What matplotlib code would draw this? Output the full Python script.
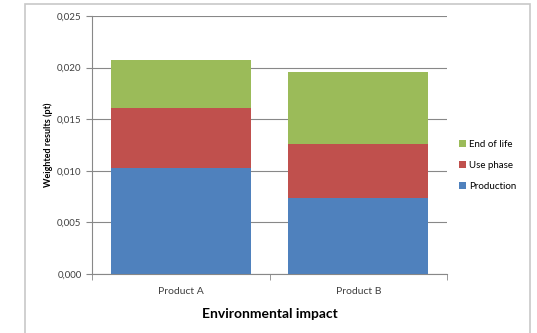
import numpy as np
import matplotlib.pyplot as plt
from matplotlib.patches import Rectangle
from matplotlib.ticker import FuncFormatter

# data
products = ['Product A', 'Product B']
production = [0.0103, 0.0074]
use_phase = [0.0058, 0.0052]
end_of_life = [0.0046, 0.0070]

plt.rcParams['font.family'] = ['Lato', 'DejaVu Sans']

fig = plt.figure(figsize=(5.37, 3.33), dpi=100)
# outer chart frame
fig.patches.append(Rectangle((25 / 537, -0.05), (530 - 25) / 537, 1.05 - 4 / 333,
                             transform=fig.transFigure, fill=False,
                             edgecolor='#c8c8c8', linewidth=1.2))

ax = fig.add_axes([92 / 537, 59 / 333, 355 / 537, 258 / 333])

x = np.arange(len(products))
w = 0.79
prod = np.array(production)
use = np.array(use_phase)
end = np.array(end_of_life)
ax.bar(x, prod, w, color='#4F81BD', label='Production', zorder=3)
ax.bar(x, use, w, bottom=prod, color='#C0504D', label='Use phase', zorder=3)
ax.bar(x, end, w, bottom=prod + use, color='#9BBB59', label='End of life', zorder=3)

ax.set_xlim(-0.5, 1.5)
ax.set_ylim(0, 0.025)
ax.set_yticks(np.arange(0, 0.0251, 0.005))
ax.yaxis.set_major_formatter(FuncFormatter(lambda v, p: f'{v:.3f}'.replace('.', ',')))
ax.set_xticks(x)
ax.set_xticklabels(products)
ax.set_xticks([-0.5, 0.5, 1.5], minor=True)
ax.tick_params(axis='x', which='major', length=0, labelsize=7.5, pad=9, colors='#404040')
ax.tick_params(axis='x', which='minor', length=4, color='#888888')
ax.tick_params(axis='y', length=4, color='#888888', labelsize=7, colors='#404040')

ax.grid(axis='y', color='#888888', linewidth=0.8, zorder=0)
for s in ['top', 'right']:
    ax.spines[s].set_visible(False)
ax.spines['left'].set_color('#888888')
ax.spines['bottom'].set_color('#888888')

ax.set_ylabel('Weighted results (pt)', fontsize=6.5, fontweight='bold', labelpad=3)
ax.set_xlabel('Environmental impact', fontsize=10, fontweight='bold', labelpad=9)

h, l = ax.get_legend_handles_labels()
ax.legend(h[::-1], l[::-1], loc='center left', bbox_to_anchor=(1.01, 0.42),
          frameon=False, fontsize=7, handlelength=0.7, handleheight=0.7,
          handletextpad=0.3, labelspacing=1.25)

plt.savefig('out.png', dpi=100)
